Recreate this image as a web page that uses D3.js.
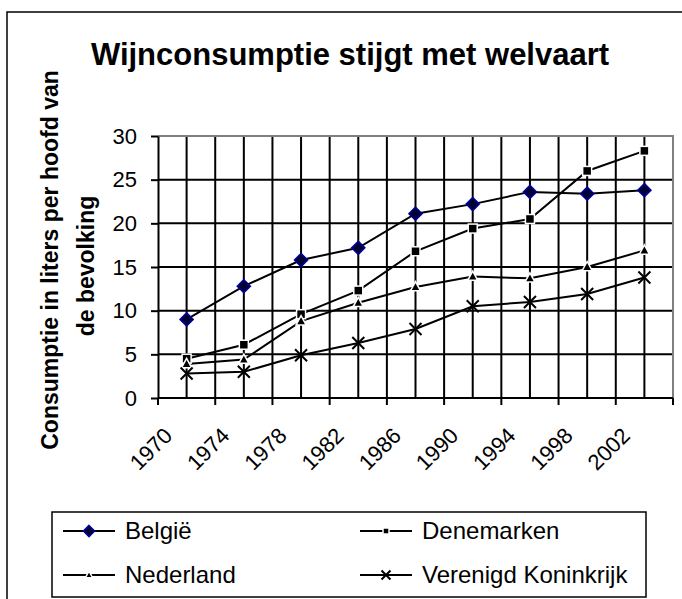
<!DOCTYPE html>
<html>
<head>
<meta charset="utf-8">
<script src="https://cdn.jsdelivr.net/npm/d3@7"></script>
<style>
  html, body { margin: 0; padding: 0; background: #fff; }
  svg { display: block; font-family: Arial, "Liberation Sans", sans-serif; }
</style>
</head>
<body>
<svg id="chart" width="682" height="599"></svg>
<script>
// ---- data ----
const years = ["1970", "1974", "1978", "1982", "1986", "1990", "1994", "1998", "2002"];
const belgie      = [9.0, 12.8, 15.8, 17.2, 21.1, 22.2, 23.6, 23.4, 23.8];
const denemarken  = [4.5, 6.1, 9.6, 12.3, 16.8, 19.4, 20.5, 26.0, 28.3];
const nederland   = [3.9, 4.4, 8.8, 10.9, 12.7, 13.9, 13.7, 15.0, 16.9];
const vk          = [2.8, 3.0, 4.9, 6.3, 7.9, 10.5, 11.0, 11.9, 13.8];
const seriesNames = ["België", "Denemarken", "Nederland", "Verenigd Koninkrijk"];
const yTicks = [0, 5, 10, 15, 20, 25, 30];
const titleText = "Wijnconsumptie stijgt met welvaart";
const yTitleLines = ["Consumptie in liters per hoofd van", "de bevolking"];

const series = [
  { name: seriesNames[0], values: belgie, marker: "diamond" },
  { name: seriesNames[1], values: denemarken, marker: "square" },
  { name: seriesNames[2], values: nederland, marker: "triangle" },
  { name: seriesNames[3], values: vk, marker: "x" }
];

const svg = d3.select("#chart");
const plot = { left: 158, right: 673, top: 136, bottom: 398 };

const x = d3.scaleBand().domain(years).range([plot.left, plot.right]).padding(0);
const y = d3.scaleLinear().domain([0, 30]).range([plot.bottom, plot.top]);
const cx = d => x(d) + x.bandwidth() / 2;

// outer frame (extends past right/bottom edge)
svg.append("rect").attr("x", 7).attr("y", 12).attr("width", 720).attr("height", 640)
  .attr("fill", "#fff").attr("stroke", "#000").attr("stroke-width", 1.5);

// title
svg.append("text").attr("x", 350).attr("y", 65).attr("text-anchor", "middle")
  .attr("font-size", 31).attr("font-weight", "bold").text(titleText);

// gridlines horizontal
const g = svg.append("g");
g.selectAll("line.hg").data(yTicks.filter(t => t > 0 && t < 30)).join("line")
  .attr("x1", plot.left).attr("x2", plot.right)
  .attr("y1", d => y(d)).attr("y2", d => y(d))
  .attr("stroke", "#000").attr("stroke-width", 2);

// gridlines vertical: band edges and centers
const vx = [];
years.forEach((yr, i) => { if (i > 0) vx.push(x(yr)); vx.push(cx(yr)); });
g.selectAll("line.vg").data(vx).join("line")
  .attr("x1", d => d).attr("x2", d => d)
  .attr("y1", plot.top).attr("y2", plot.bottom)
  .attr("stroke", "#000").attr("stroke-width", 2);

// plot border (gray) top/right
svg.append("path")
  .attr("d", `M${plot.left},${plot.top}H${plot.right}V${plot.bottom}`)
  .attr("fill", "none").attr("stroke", "#808080").attr("stroke-width", 2);

// y axis
const yAxis = d3.axisLeft(y).tickValues(yTicks).tickSize(7).tickPadding(14).tickSizeOuter(0);
const ya = svg.append("g").attr("transform", `translate(${plot.left},0)`).call(yAxis);
ya.select(".domain").attr("stroke", "#000").attr("stroke-width", 2);
ya.selectAll(".tick line").attr("stroke", "#000").attr("stroke-width", 2);
ya.selectAll(".tick text").attr("font-size", 22).attr("font-family", "Arial, 'Liberation Sans', sans-serif").attr("fill", "#000");

// x axis
const xa = svg.append("g").attr("transform", `translate(0,${plot.bottom})`);
xa.append("line").attr("x1", plot.left).attr("x2", plot.right).attr("y1", 0).attr("y2", 0)
  .attr("stroke", "#000").attr("stroke-width", 2);
const edges = years.map(yr => x(yr)).concat([x(years[years.length - 1]) + x.bandwidth()]);
xa.selectAll("line.tk").data(edges).join("line")
  .attr("x1", d => d).attr("x2", d => d).attr("y1", 0).attr("y2", 7)
  .attr("stroke", "#000").attr("stroke-width", 2);
xa.selectAll("text").data(years).join("text")
  .attr("transform", d => `translate(${cx(d) - 13},39) rotate(-45)`)
  .attr("text-anchor", "end").attr("font-size", 22).text(d => d);

// y title
yTitleLines.forEach((t, i) => {
  svg.append("text")
    .attr("transform", `translate(${i === 0 ? 58 : 94},${i === 0 ? 260 : 266}) rotate(-90)`)
    .attr("text-anchor", "middle").attr("font-size", 23).attr("font-weight", "bold").text(t);
});

// markers
function drawMarker(sel, type, px, py, s) {
  if (type === "diamond") {
    sel.append("path").attr("d", `M${px},${py - s}L${px + s},${py}L${px},${py + s}L${px - s},${py}Z`)
      .attr("fill", "#000033").attr("stroke", "#000099").attr("stroke-width", 1.6);
  } else if (type === "square") {
    sel.append("rect").attr("x", px - s).attr("y", py - s).attr("width", 2 * s).attr("height", 2 * s)
      .attr("fill", "#000").attr("stroke", "#fff").attr("stroke-width", 1.5);
  } else if (type === "triangle") {
    sel.append("path").attr("d", `M${px},${py - s * 1.1}L${px + s},${py + s * 0.75}L${px - s},${py + s * 0.75}Z`)
      .attr("fill", "#000").attr("stroke", "#fff").attr("stroke-width", 1.5);
  } else if (type === "x") {
    sel.append("path").attr("d", `M${px - s},${py - s}L${px + s},${py + s}M${px - s},${py + s}L${px + s},${py - s}`)
      .attr("stroke", "#000").attr("stroke-width", 2);
  }
}
const markerSize = { diamond: 6.5, square: 4.5, triangle: 5, x: 6 };
const legendMarkerSize = { diamond: 5.5, square: 3, triangle: 3.6, x: 4.5 };

const line = d3.line().x((v, i) => cx(years[i])).y(v => y(v));
series.forEach(s => {
  svg.append("path").datum(s.values).attr("d", line)
    .attr("fill", "none").attr("stroke", "#000").attr("stroke-width", 2);
});
series.forEach(s => {
  const mg = svg.append("g");
  s.values.forEach((v, i) => drawMarker(mg, s.marker, cx(years[i]), y(v), markerSize[s.marker]));
});

// legend
svg.append("rect").attr("x", 52).attr("y", 512).attr("width", 594).attr("height", 85)
  .attr("fill", "#fff").attr("stroke", "#000").attr("stroke-width", 1.5);
const legPos = [[63, 531], [360, 531], [63, 575], [360, 575]];
series.forEach((s, i) => {
  const [lx, ly] = legPos[i];
  const lg = svg.append("g");
  lg.append("line").attr("x1", lx).attr("x2", lx + 52).attr("y1", ly).attr("y2", ly)
    .attr("stroke", "#000").attr("stroke-width", 2);
  drawMarker(lg, s.marker, lx + 26, ly, legendMarkerSize[s.marker]);
  lg.append("text").attr("x", lx + 62).attr("y", ly + 8).attr("font-size", 24).text(s.name);
});
</script>
</body>
</html>
